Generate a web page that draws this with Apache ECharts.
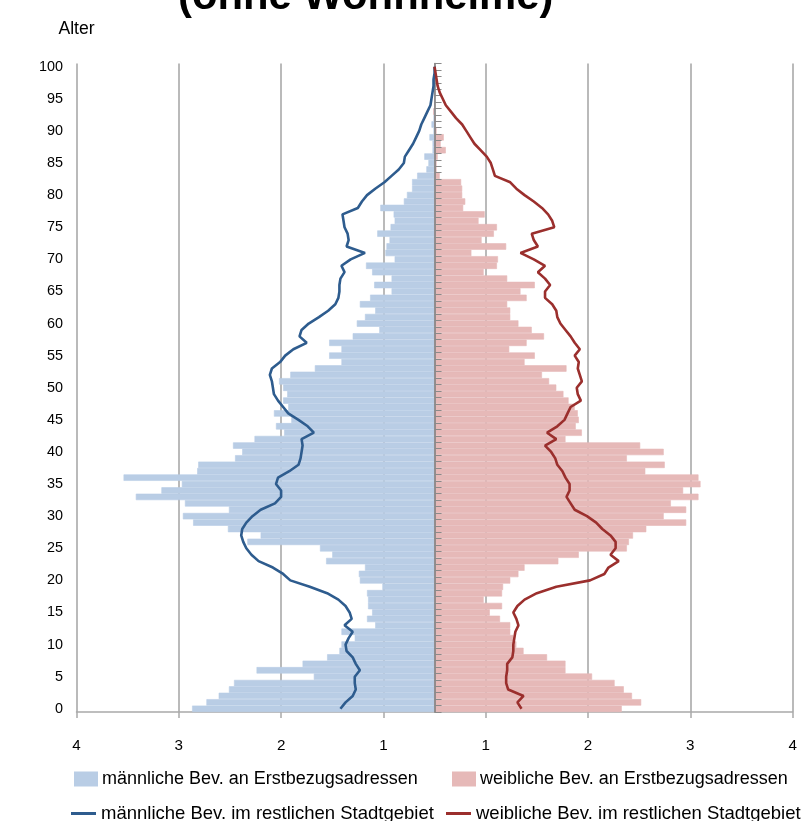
<!DOCTYPE html>
<html><head><meta charset="utf-8">
<script src="https://cdn.jsdelivr.net/npm/echarts@6/dist/echarts.min.js"></script>
<style>html,body{margin:0;padding:0;background:#fff}#c{width:801px;height:821px}</style>
</head><body><div id="c"></div>
<script>
// Age categories 0..100
const ages = ['0','1','2','3','4','5','6','7','8','9','10','11','12','13','14','15','16','17','18','19','20',
'21','22','23','24','25','26','27','28','29','30','31','32','33','34','35','36','37','38','39','40',
'41','42','43','44','45','46','47','48','49','50','51','52','53','54','55','56','57','58','59','60',
'61','62','63','64','65','66','67','68','69','70','71','72','73','74','75','76','77','78','79','80',
'81','82','83','84','85','86','87','88','89','90','91','92','93','94','95','96','97','98','99','100'];

// x-axis tick labels (as printed in the original, left to right)
const tickLabels = ['4','3','2','1','1','2','3','4'];

const seriesNames = [
  'männliche Bev. an Erstbezugsadressen',
  'weibliche Bev. an Erstbezugsadressen',
  'männliche Bev. im restlichen Stadtgebiet',
  'weibliche Bev. im restlichen Stadtgebiet'
];

// Bars: male population at first-occupancy addresses (age 0..100)
const maleFirst = [2.37,2.23,2.11,2.01,1.96,1.18,1.74,1.29,1.05,0.93,
0.91,0.78,0.91,0.58,0.66,0.61,0.65,0.65,0.66,0.51,
0.73,0.74,0.68,1.06,1.00,1.12,1.83,1.70,2.02,2.36,
2.46,2.01,2.44,2.92,2.67,2.47,3.04,2.32,2.31,1.95,
1.88,1.97,1.76,1.47,1.55,1.40,1.57,1.43,1.48,1.44,
1.48,1.52,1.41,1.17,0.91,1.03,0.91,1.03,0.80,0.54,
0.76,0.68,0.58,0.73,0.63,0.42,0.59,0.42,0.61,0.67,
0.39,0.48,0.47,0.44,0.56,0.43,0.39,0.40,0.53,0.30,
0.27,0.22,0.22,0.17,0.08,0.06,0.10,0.02,0.02,0.05,
0.01,0.03,0.01,0.01,0,0,0,0,0,0,0];

// Bars: female population at first-occupancy addresses
const femaleFirst = [1.83,2.02,1.93,1.85,1.76,1.54,1.28,1.28,1.10,0.87,
0.80,0.77,0.74,0.74,0.64,0.54,0.66,0.48,0.66,0.67,
0.74,0.82,0.88,1.21,1.41,1.88,1.90,1.94,2.07,2.46,
2.24,2.46,2.31,2.58,2.43,2.60,2.58,2.06,2.25,1.88,
2.24,2.01,1.28,1.44,1.38,1.41,1.40,1.37,1.31,1.26,
1.19,1.12,1.05,1.29,0.88,0.98,0.73,0.90,1.07,0.95,
0.82,0.74,0.74,0.71,0.90,0.84,0.98,0.71,0.48,0.61,
0.62,0.36,0.70,0.46,0.58,0.61,0.43,0.49,0.28,0.30,
0.27,0.27,0.26,0.05,0.02,0.02,0.03,0.11,0.06,0.09,
0.02,0.01,0.01,0,0,0,0,0,0,0,0];

// Lines: male population in the rest of the city
const maleRest = [0.92,0.87,0.80,0.77,0.78,0.78,0.73,0.77,0.80,0.86,
0.87,0.84,0.80,0.88,0.81,0.83,0.87,0.94,1.05,1.22,
1.41,1.48,1.58,1.72,1.79,1.84,1.87,1.89,1.88,1.84,
1.78,1.70,1.56,1.50,1.50,1.55,1.53,1.42,1.33,1.31,
1.30,1.29,1.30,1.18,1.24,1.33,1.43,1.48,1.53,1.57,
1.58,1.59,1.61,1.59,1.51,1.46,1.38,1.25,1.32,1.30,
1.23,1.13,1.04,0.97,0.94,0.93,0.93,0.92,0.88,0.91,
0.82,0.68,0.86,0.84,0.85,0.88,0.89,0.90,0.75,0.71,
0.66,0.58,0.49,0.42,0.35,0.30,0.29,0.25,0.21,0.18,
0.15,0.13,0.10,0.07,0.04,0.03,0.02,0.01,0.01,0.00,0.00];

// Lines: female population in the rest of the city
const femaleRest = [0.85,0.81,0.87,0.72,0.70,0.70,0.71,0.71,0.76,0.77,
0.77,0.78,0.79,0.82,0.80,0.77,0.81,0.88,1.00,1.19,
1.52,1.66,1.70,1.80,1.72,1.77,1.77,1.72,1.64,1.58,
1.49,1.37,1.33,1.29,1.32,1.32,1.28,1.25,1.20,1.18,
1.14,1.08,1.19,1.10,1.20,1.27,1.30,1.33,1.43,1.40,
1.39,1.44,1.42,1.40,1.41,1.37,1.42,1.37,1.33,1.28,
1.23,1.20,1.19,1.15,1.08,1.08,1.13,1.08,1.01,1.08,
0.97,0.84,1.01,0.97,0.95,1.17,1.15,1.11,1.05,0.97,
0.88,0.80,0.74,0.59,0.57,0.55,0.51,0.45,0.39,0.35,
0.31,0.27,0.21,0.16,0.11,0.08,0.05,0.03,0.02,0.01,0.00];

function hasFont(name){
  const c = document.createElement('canvas').getContext('2d');
  const s = 'abcdefghijklmnopqrstuvwxyz ABCDEFG 0123456789';
  c.font = '40px monospace'; const a = c.measureText(s).width;
  c.font = '40px "' + name + '", monospace'; const b = c.measureText(s).width;
  return Math.abs(a - b) > 0.5;
}
const NARROW = hasFont('Liberation Sans Narrow');
const FF = NARROW ? '"Liberation Sans Narrow", "Liberation Sans", sans-serif' : '"Liberation Sans", Arial, sans-serif';
const K = NARROW ? 1 : 0.82;
const fs = n => Math.round(n * K * 10) / 10;

const C_MB = '#b9cde5', C_FB = '#e6b9b8', C_ML = '#2e5c8e', C_FL = '#9b2f2d';
const GRIDC = '#a9a9a9';

const chart = echarts.init(document.getElementById('c'), null, {renderer: 'canvas'});
const legendText1 = {fontFamily: FF, fontSize: fs(22), color: '#000'};
const legendText2 = {fontFamily: FF, fontSize: fs(22.6), color: '#000'};

chart.setOption({
  animation: false,
  backgroundColor: '#fff',
  title: {
    text: '(ohne Wohnheime)', left: 178, top: -24, padding: 0,
    textStyle: {fontFamily: FF, fontWeight: 'bold', fontSize: fs(51), color: '#000'}
  },
  grid: {left: 76.5, right: 8.4, top: 63.5, bottom: 109, containLabel: false},
  xAxis: {
    type: 'value', min: -3.5, max: 3.5, interval: 1,
    axisLine: {show: true, onZero: false, lineStyle: {color: GRIDC, width: 1.5}},
    axisTick: {show: true, length: 6, lineStyle: {color: GRIDC, width: 1.5}},
    splitLine: {show: true, lineStyle: {color: GRIDC, width: 1.6}},
    axisLabel: {
      margin: 26, fontFamily: FF, fontSize: fs(18.5), color: '#000',
      formatter: (v, i) => tickLabels[i] != null ? tickLabels[i] : String(Math.round(Math.abs(v) + 0.5))
    }
  },
  yAxis: [
    {
      type: 'category', data: ages, position: 'left',
      name: 'Alter', nameLocation: 'end', nameGap: 25,
      nameTextStyle: {fontFamily: FF, fontSize: fs(21.5), color: '#000'},
      axisLine: {show: false, onZero: false},
      axisTick: {show: false},
      splitLine: {show: false},
      axisLabel: {interval: 4, margin: 13.5, fontFamily: FF, fontSize: fs(17.5), color: '#000'}
    },
    {
      type: 'category', data: ages, position: 'left', z: 5,
      axisLine: {show: true, onZero: true, lineStyle: {color: '#7f7f7f', width: 1.6}},
      axisTick: {show: true, inside: true, length: 7, interval: 0, lineStyle: {color: '#8a8a8a', width: 1}},
      axisLabel: {show: false},
      splitLine: {show: false}
    }
  ],
  legend: [
    {data: [{name: seriesNames[0], icon: 'rect'}], left: 74, top: 770, padding: 0, itemWidth: 22, itemHeight: 13, selectedMode: false, textStyle: legendText1},
    {data: [{name: seriesNames[1], icon: 'rect'}], left: 452, top: 770, padding: 0, itemWidth: 22, itemHeight: 13, selectedMode: false, textStyle: legendText1},
    {data: [{name: seriesNames[2], icon: 'rect'}], left: 71, top: 804, padding: 0, itemWidth: 25, itemHeight: 3, selectedMode: false, textStyle: legendText2},
    {data: [{name: seriesNames[3], icon: 'rect'}], left: 446, top: 804, padding: 0, itemWidth: 25, itemHeight: 3, selectedMode: false, textStyle: legendText2}
  ],
  series: [
    {name: seriesNames[0], type: 'bar', stack: 'pyr', barCategoryGap: '0%',
     data: maleFirst.map(v => -v), itemStyle: {color: C_MB, borderColor: C_MB, borderWidth: 0.6}},
    {name: seriesNames[1], type: 'bar', stack: 'pyr', barCategoryGap: '0%',
     data: femaleFirst, itemStyle: {color: C_FB, borderColor: C_FB, borderWidth: 0.6}},
    {name: seriesNames[2], type: 'line', data: maleRest.map(v => -v), symbol: 'none', z: 6,
     lineStyle: {color: C_ML, width: 2.6}, itemStyle: {color: C_ML}},
    {name: seriesNames[3], type: 'line', data: femaleRest, symbol: 'none', z: 6,
     lineStyle: {color: C_FL, width: 2.6}, itemStyle: {color: C_FL}}
  ]
});
</script>
</body></html>
